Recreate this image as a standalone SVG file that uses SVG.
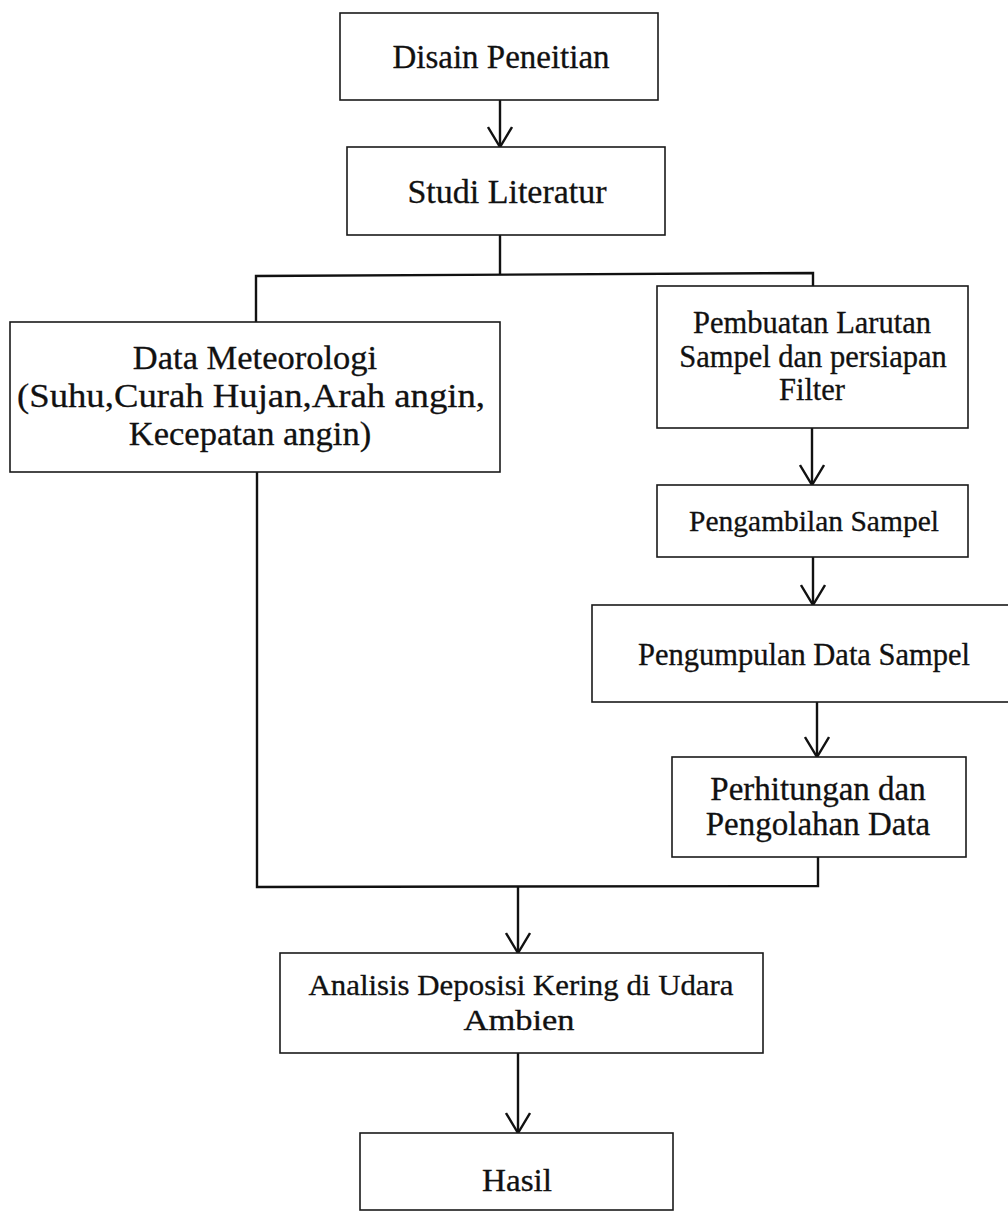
<svg xmlns="http://www.w3.org/2000/svg" width="1008" height="1212" viewBox="0 0 1008 1212">
<style>
.box{fill:#fff;stroke:#1a1a1a;stroke-width:1.6}
.t{font-family:"Liberation Serif","Times New Roman",serif;fill:#111;stroke:#111;stroke-width:0.3;text-anchor:middle}
.ln{fill:none;stroke:#111;stroke-width:2.4}
.ar{fill:none;stroke:#111;stroke-width:2.4;marker-end:url(#arr)}
</style>
<defs>
<marker id="arr" viewBox="0 0 22 26" refX="21" refY="13" markerWidth="22" markerHeight="26" markerUnits="userSpaceOnUse" orient="auto">
<path d="M1,1 L21,13 L1,25" fill="none" stroke="#111" stroke-width="2.4"/>
</marker>
</defs>
<rect width="1008" height="1212" fill="#fff"/>
<g id="connectors">
<line class="ar" x1="500" y1="100" x2="500" y2="147"/>
<polyline class="ln" points="500,235 500,275"/>
<polyline class="ln" points="256,322 256,276 813,273 813,286"/>
<line class="ar" x1="812" y1="428" x2="812" y2="485"/>
<line class="ar" x1="813" y1="557" x2="813" y2="605"/>
<line class="ar" x1="817" y1="702" x2="817" y2="757"/>
<polyline class="ln" points="257,472 257,887 818,886 818,857"/>
<line class="ar" x1="518" y1="887" x2="518" y2="953"/>
<line class="ar" x1="518" y1="1053" x2="518" y2="1133"/>
</g>
<g id="n1">
<rect class="box" x="340" y="13" width="318" height="87"/>
<text class="t" x="501" y="68" font-size="33">Disain Peneitian</text>
</g>
<g id="n2">
<rect class="box" x="347" y="147" width="318" height="88"/>
<text class="t" x="507" y="203" font-size="34">Studi Literatur</text>
</g>
<g id="n3">
<rect class="box" x="10" y="322" width="490" height="150"/>
<text class="t" x="255" y="369" font-size="34.5">Data Meteorologi</text>
<text class="t" x="251" y="407" font-size="34.5" textLength="468" lengthAdjust="spacingAndGlyphs">(Suhu,Curah Hujan,Arah angin,</text>
<text class="t" x="250" y="445" font-size="34.5">Kecepatan angin)</text>
</g>
<g id="n4">
<rect class="box" x="657" y="286" width="311" height="142"/>
<text class="t" x="812" y="333" font-size="30.5">Pembuatan Larutan</text>
<text class="t" x="813" y="367" font-size="30.5">Sampel dan persiapan</text>
<text class="t" x="812" y="400" font-size="30.5">Filter</text>
</g>
<g id="n5">
<rect class="box" x="657" y="485" width="311" height="72"/>
<text class="t" x="814" y="531" font-size="29.5">Pengambilan Sampel</text>
</g>
<g id="n6">
<rect class="box" x="592" y="605" width="420" height="97"/>
<text class="t" x="804" y="665" font-size="30.5">Pengumpulan Data Sampel</text>
</g>
<g id="n7">
<rect class="box" x="672" y="757" width="294" height="100"/>
<text class="t" x="818" y="800" font-size="33">Perhitungan dan</text>
<text class="t" x="818" y="835" font-size="33">Pengolahan Data</text>
</g>
<g id="n8">
<rect class="box" x="280" y="953" width="483" height="100"/>
<text class="t" x="521" y="995" font-size="30" textLength="425" lengthAdjust="spacingAndGlyphs">Analisis Deposisi Kering di Udara</text>
<text class="t" x="519" y="1030" font-size="30" textLength="111" lengthAdjust="spacingAndGlyphs">Ambien</text>
</g>
<g id="n9">
<rect class="box" x="360" y="1133" width="313" height="77"/>
<text class="t" x="517" y="1191" font-size="31" textLength="70" lengthAdjust="spacingAndGlyphs">Hasil</text>
</g>
</svg>
